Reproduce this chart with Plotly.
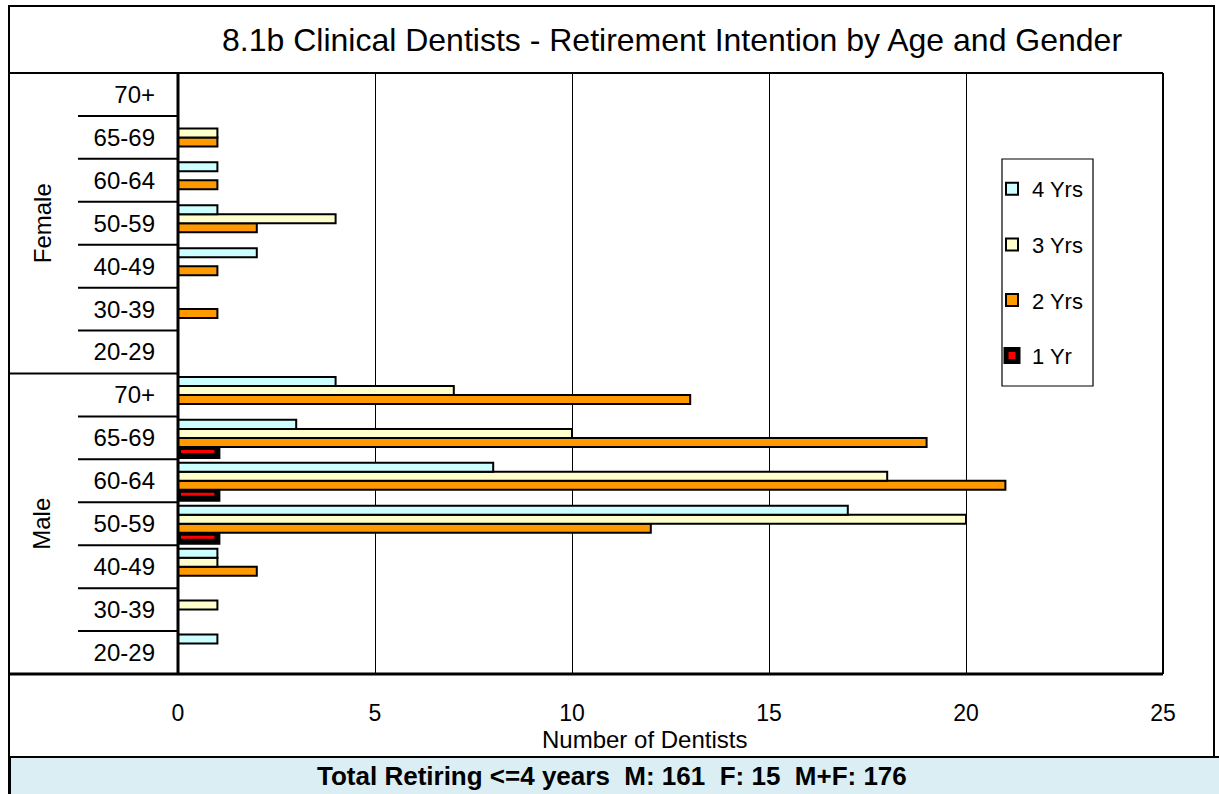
import plotly.graph_objects as go

# ---------------- data ----------------
age_groups = ["70+", "65-69", "60-64", "50-59", "40-49", "30-39", "20-29"]  # top to bottom
genders = ["Female", "Male"]

female_4yrs = [0, 0, 1, 1, 2, 0, 0]
female_3yrs = [0, 1, 0, 4, 0, 0, 0]
female_2yrs = [0, 1, 1, 2, 1, 1, 0]
female_1yr = [0, 0, 0, 0, 0, 0, 0]

male_4yrs = [4, 3, 8, 17, 1, 0, 1]
male_3yrs = [7, 10, 18, 20, 1, 1, 0]
male_2yrs = [13, 19, 21, 12, 2, 0, 0]
male_1yr = [0, 1, 1, 1, 0, 0, 0]

series_names = ["1 Yr", "2 Yrs", "3 Yrs", "4 Yrs"]
series_colors = ["#FF0000", "#FF9900", "#FFFFCC", "#CCFFFF"]
series_female = [female_1yr, female_2yrs, female_3yrs, female_4yrs]
series_male = [male_1yr, male_2yrs, male_3yrs, male_4yrs]

title_text = "8.1b Clinical Dentists - Retirement Intention by Age and Gender"
x_title = "Number of Dentists"
summary_text = "Total Retiring <=4 years  M: 161  F: 15  M+F: 176"

# ---------------- layout geometry (pixels) ----------------
W, H = 1219, 794
PL, PR, PT, PB = 178, 1163, 73, 674
FONT = "Liberation Sans, Arial, sans-serif"


def px(xp):
    return (xp - PL) / (PR - PL)


def py(yp):
    return (PB - yp) / (PB - PT)


# rows: index 13 = Female 70+ (top) ... 0 = Male 20-29 (bottom)
n = len(age_groups)
row_pos = list(range(2 * n - 1, -1, -1))
row_labels = age_groups + age_groups

fig = go.Figure()
for i, (name, color, fv, mv) in enumerate(zip(series_names, series_colors, series_female, series_male)):
    vals = fv + mv
    xs = [v if v != 0 else None for v in vals]
    if name == "1 Yr":
        line = dict(color="black", width=6)
    else:
        line = dict(color="black", width=2)
    fig.add_trace(go.Bar(
        x=xs, y=row_pos, orientation="h", name=name,
        marker=dict(color=color, line=line),
        legendgroup=name, legendrank=len(series_names) - i,
    ))

shapes = []
# outer frame
shapes.append(dict(type="rect", xref="paper", yref="paper",
                   x0=px(9), x1=px(1214), y0=py(6), y1=py(800),
                   line=dict(color="black", width=2), fillcolor="rgba(0,0,0,0)", layer="below"))
# summary box
shapes.append(dict(type="rect", xref="paper", yref="paper",
                   x0=px(10), x1=px(1225), y0=py(757), y1=py(800),
                   line=dict(color="black", width=2), fillcolor="#DAEEF3", layer="above"))
# top line of plot area (title separator)
shapes.append(dict(type="line", xref="paper", yref="paper",
                   x0=px(10), x1=px(PR), y0=1, y1=1, line=dict(color="black", width=2)))
# bottom line
shapes.append(dict(type="line", xref="paper", yref="paper",
                   x0=px(10), x1=px(PR), y0=0, y1=0, line=dict(color="black", width=3)))
# right border
shapes.append(dict(type="line", xref="paper", yref="paper",
                   x0=1, x1=1, y0=0, y1=1, line=dict(color="black", width=2)))
# left axis thick line
shapes.append(dict(type="line", xref="paper", yref="paper",
                   x0=0, x1=0, y0=0, y1=1, line=dict(color="black", width=3)))
# row dividers in label area
for k in range(1, 2 * n):
    yb = k - 0.5
    x_start = px(10) if k == n else px(78)
    shapes.append(dict(type="line", xref="paper", yref="y",
                       x0=x_start, x1=0, y0=yb, y1=yb,
                       line=dict(color="black", width=2)))
# legend box
shapes.append(dict(type="rect", xref="paper", yref="paper",
                   x0=px(1002), x1=px(1093), y0=py(159), y1=py(386),
                   line=dict(color="black", width=1.2), fillcolor="rgba(0,0,0,0)"))

annotations = [
    dict(text=title_text, xref="paper", yref="paper", x=px(672), y=py(40),
         showarrow=False, font=dict(family=FONT, size=32, color="black"),
         xanchor="center", yanchor="middle"),
    dict(text="Female", xref="paper", yref="y", x=px(42), y=(2 * n - 1 + n) / 2,
         textangle=-90, showarrow=False, font=dict(family=FONT, size=24, color="black"),
         xanchor="center", yanchor="middle"),
    dict(text="Male", xref="paper", yref="y", x=px(42), y=(n - 1) / 2,
         textangle=-90, showarrow=False, font=dict(family=FONT, size=24, color="black"),
         xanchor="center", yanchor="middle"),
    dict(text=x_title, xref="paper", yref="paper", x=px(644), y=py(740),
         showarrow=False, font=dict(family=FONT, size=24, color="black"),
         xanchor="center", yanchor="middle"),
    dict(text="<b>" + summary_text + "</b>", xref="paper", yref="paper", x=px(612), y=py(776),
         showarrow=False, font=dict(family=FONT, size=26, color="black"),
         xanchor="center", yanchor="middle"),
]

fig.update_layout(
    width=W, height=H,
    margin=dict(l=PL, r=W - PR, t=PT, b=H - PB, pad=0),
    paper_bgcolor="white", plot_bgcolor="white",
    barmode="group", bargap=0.16, bargroupgap=0,
    font=dict(family=FONT, size=22, color="black"),
    showlegend=True,
    legend=dict(x=px(992), y=py(168), xanchor="left", yanchor="top",
                traceorder="grouped", tracegroupgap=24,
                font=dict(family=FONT, size=22, color="black"),
                bgcolor="rgba(0,0,0,0)", borderwidth=0, itemwidth=30),
    shapes=shapes, annotations=annotations,
)
fig.update_xaxes(range=[0, 25], dtick=5, tick0=0, showgrid=True, gridcolor="black", gridwidth=1.3,
                 zeroline=False, showline=False, ticks="", ticklabelstandoff=23,
                 tickfont=dict(family=FONT, size=23, color="black"))
fig.update_yaxes(range=[-0.5, 2 * n - 0.5], tickvals=row_pos, ticktext=row_labels,
                 showgrid=False, zeroline=False, showline=False, ticks="", ticklabelstandoff=22,
                 tickfont=dict(family=FONT, size=24, color="black"))

fig.write_html(
    "out.html",
    config={"displayModeBar": False},
    post_script="document.body.style.margin='0';document.body.style.overflow='hidden';",
)
